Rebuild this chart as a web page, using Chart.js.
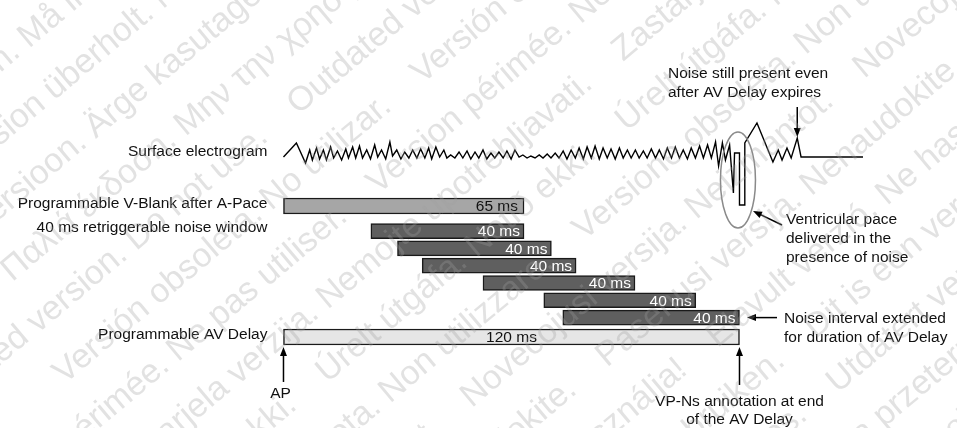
<!DOCTYPE html>
<html>
<head>
<meta charset="utf-8">
<title>Noise during the AV Delay</title>
<script src="https://cdn.jsdelivr.net/npm/chart.js@4.4.1/dist/chart.umd.min.js"></script>
<style>
  html, body { margin: 0; padding: 0; background: #fff; }
  #wrap { width: 957px; height: 428px; position: relative; }
</style>
</head>
<body>
<div id="wrap"><canvas id="timingChart"></canvas></div>
<script>
// times are ms after the atrial pace (AP)
const rowLabels = ['Surface electrogram', 'Programmable V-Blank after A-Pace',
                   '40 ms retriggerable noise window', 'Programmable AV Delay'];
const vBlank = [0, 63.3];
const noiseStarts = [23, 30, 36.5, 52.5, 68.5, 73.5];
const noiseEnds = [63.3, 70.5, 77, 92.5, 108.5, 120];
const avDelay = [0, 120];
const vBlankText = '65 ms';
const noiseText = '40 ms';
const avText = '120 ms';

// surface electrogram trace (time ms, amplitude)
const egmTime = [0, 3.4, 5.8, 6.9, 7.6, 8.7, 9.5, 10.5, 11.3, 12.4, 13.2, 14.2, 15.3, 16.4, 17.1,
  18.2, 19.0, 20.0, 20.8, 21.9, 22.9, 24.0, 24.8, 25.8, 26.9, 28.0, 28.7, 29.8, 30.9, 31.9,
  33.0, 34.0, 35.1, 36.1, 37.2, 38.2, 39.0, 40.1, 41.1, 42.2, 43.0, 44.0, 45.1, 46.2, 47.2,
  48.3, 49.3, 50.4, 51.4, 52.5, 53.5, 54.6, 55.6, 56.7, 57.8, 58.8, 59.9, 60.9, 62.0, 63.0,
  64.1, 65.1, 66.2, 67.3, 68.3, 69.4, 70.4, 71.5, 72.5, 73.6, 74.6, 75.7, 76.8, 77.8, 78.9,
  79.9, 81.0, 82.0, 83.1, 84.1, 85.2, 86.2, 87.3, 88.4, 89.4, 90.5, 91.5, 92.6, 93.6, 94.7,
  95.7, 96.8, 97.9, 98.9, 100.0, 101.0, 102.1, 103.1, 104.2, 105.2, 106.3, 107.3, 108.4, 109.5, 110.5,
  111.6, 112.6, 113.7, 114.5, 115.5, 116.3, 117.4, 118.4, 118.7, 120, 120, 121.4, 121.4, 124.6, 128.8,
  130.2, 131.2, 132.5, 133.6, 135.2, 136.2, 152.5];
const egmAmp = [0, 14, -6, 7, -3, 9, -2, 7, -3, 10, -1, 6, -3, 8, -1,
  10, -1, 11, -1, 7, -2, 12, 0, 7, -2, 15, 1, 7, -2, 5,
  -1, 7, -1, 8, -1, 9, -2, 10, 0, 7, -1, 2, -1, 5, -1,
  6, -2, 5, -1, 7, -2, 4, -1, 5, -1, 6, -2, 7, 0, 2,
  -1, 1, -1, 2, -1, 3, -1, 4, -1, 6, -2, 7, -1, 9, -2,
  10, -1, 11, -2, 9, -1, 8, -2, 9, -1, 7, -1, 7, -1, 6,
  -1, 8, -1, 7, -2, 9, -1, 10, -1, 7, -2, 9, -1, 11, -1,
  12, -1, 15, -9, 14, -3, 12, -36, 4, 4, -48, -48, 14, 34, -5,
  7, -3, 9, -1, 19, 0, 0];

// watermark lines printed over the page
const watermark = [
  'Zastaralá verze. Nepoužívat.', 'Forældet version. Må ikke anvendes.',
  'Version überholt. Nicht verwenden.', 'Aegunud versioon. Ärge kasutage.',
  'Παλιά έκδοση. Μην την χρησιμοποιείτε.', 'Outdated version. Do not use.',
  'Versión obsoleta. No utilizar.', 'Version périmée. Ne pas utiliser.',
  'Zastarjela verzija. Nemojte upotrebljavati.', 'Úrelt útgáfa. Notið ekki.',
  'Versione obsoleta. Non utilizzare.', 'Novecojusi versija. Neizmantot.',
  'Pasenusi versija. Nenaudokite.', 'Elavult verzió. Ne használja!',
  'Dit is een verouderde versie. Niet gebruiken.', 'Utdatert versjon. Skal ikke brukes.',
  'Wersja przeterminowana. Nie używać.', 'Versão obsoleta. Não utilize.',
  'Versiune expirată. A nu se utiliza.', 'Zastaraná verzia. Nepoužívať.'
];

// layout: lane of each bar row on the y scale (one lane = one noise bar)
const lanes = { vBlank: 0, noise: [1.45, 2.45, 3.45, 4.45, 5.45, 6.45], av: 7.57 };
const FONT = '"Liberation Sans", Arial, sans-serif';

function arrow(ctx, x1, y1, x2, y2) {
  const a = Math.atan2(y2 - y1, x2 - x1);
  const len = 9, half = 3.5;
  ctx.beginPath();
  ctx.moveTo(x1, y1);
  ctx.lineTo(x2 - Math.cos(a) * len * 0.8, y2 - Math.sin(a) * len * 0.8);
  ctx.stroke();
  ctx.beginPath();
  ctx.moveTo(x2, y2);
  ctx.lineTo(x2 - Math.cos(a) * len - Math.sin(a) * half, y2 - Math.sin(a) * len + Math.cos(a) * half);
  ctx.lineTo(x2 - Math.cos(a) * len + Math.sin(a) * half, y2 - Math.sin(a) * len - Math.cos(a) * half);
  ctx.closePath();
  ctx.fill();
}

const notes = {
  id: 'notes',
  afterDatasetsDraw(chart) {
    const { ctx, scales: { x, y, yEgm } } = chart;
    ctx.save();
    ctx.textBaseline = 'middle';
    ctx.font = '15.5px ' + FONT;

    // bar labels
    const meta = i => chart.getDatasetMeta(i).data;
    ctx.textAlign = 'right';
    ctx.fillStyle = '#111';
    meta(0).forEach(b => ctx.fillText(vBlankText, b.x - 6, b.y + 1));
    ctx.fillStyle = '#fff';
    meta(1).forEach(b => ctx.fillText(noiseText, b.x - 4, b.y + 1));
    ctx.textAlign = 'center';
    ctx.fillStyle = '#111';
    meta(2).forEach(b => ctx.fillText(avText, (b.x + b.base) / 2, b.y + 1));

    // row labels on the left
    ctx.textAlign = 'right';
    const lx = x.getPixelForValue(0) - 16;
    ctx.fillText(rowLabels[0], lx, yEgm.getPixelForValue(0) - 5);
    ctx.fillText(rowLabels[1], lx, y.getPixelForValue(lanes.vBlank) - 2);
    ctx.fillText(rowLabels[2], lx, y.getPixelForValue(lanes.noise[0]) - 3);
    ctx.fillText(rowLabels[3], lx, y.getPixelForValue(lanes.av) - 2);

    // annotations
    ctx.strokeStyle = '#000';
    ctx.fillStyle = '#000';
    ctx.lineWidth = 1.5;
    const x0 = x.getPixelForValue(0), xEnd = x.getPixelForValue(avDelay[1]);
    const avBottom = y.getPixelForValue(lanes.av) + 8;
    arrow(ctx, x0, avBottom + 37, x0, avBottom + 2);
    arrow(ctx, xEnd, avBottom + 40, xEnd, avBottom + 2);
    ctx.fillStyle = '#111';
    ctx.textAlign = 'center';
    ctx.fillText('AP', x0 - 3, 394);
    ctx.fillText('VP-Ns annotation at end', xEnd, 402);
    ctx.fillText('of the AV Delay', xEnd, 420);

    const lastNoise = y.getPixelForValue(lanes.noise[5]);
    ctx.fillStyle = '#000';
    arrow(ctx, 777, lastNoise, 747, lastNoise);
    arrow(ctx, 782, 225, 753, 211);
    const xNoise = x.getPixelForValue(135.2);
    arrow(ctx, xNoise, 107, xNoise, 137);

    ctx.fillStyle = '#111';
    ctx.textAlign = 'left';
    ctx.fillText('Noise still present even', 668, 74);
    ctx.fillText('after AV Delay expires', 668, 93);
    ctx.fillText('Ventricular pace', 786, 220);
    ctx.fillText('delivered in the', 786, 239);
    ctx.fillText('presence of noise', 786, 258);
    ctx.fillText('Noise interval extended', 784, lastNoise + 1);
    ctx.fillText('for duration of AV Delay', 784, lastNoise + 20);

    // ellipse round the paced beat
    ctx.strokeStyle = '#8a8a8a';
    ctx.lineWidth = 1.5;
    ctx.beginPath();
    ctx.ellipse(x.getPixelForValue(119.6), 180, 17.5, 48, 0, 0, Math.PI * 2);
    ctx.stroke();
    ctx.restore();
  },
  afterDraw(chart) {
    const { ctx } = chart;
    ctx.save();
    ctx.font = '34px ' + FONT;
    ctx.fillStyle = 'rgba(160,160,160,0.3)';
    ctx.textBaseline = 'alphabetic';
    ctx.rotate(-40 * Math.PI / 180);
    for (let k = 0; k < 18; k++) {
      const text = watermark[k % watermark.length] + '    ';
      const w = ctx.measureText(text).width;
      let xs = -420 + (k * 137) % 300;
      while (xs < 800) {
        ctx.fillText(text, xs, k * 56);
        xs += w;
      }
    }
    ctx.restore();
  }
};

const barStyle = { indexAxis: 'y', yAxisID: 'y', xAxisID: 'x', grouped: false,
                   borderColor: '#1a1a1a', borderWidth: 1.5, borderSkipped: false };

new Chart(document.getElementById('timingChart'), {
  data: {
    datasets: [
      Object.assign({ type: 'bar', label: rowLabels[1], backgroundColor: '#a6a6a6', barThickness: 16,
        data: [{ x: vBlank, y: lanes.vBlank }] }, barStyle),
      Object.assign({ type: 'bar', label: rowLabels[2], backgroundColor: '#5f5f5f', barThickness: 15,
        data: noiseStarts.map((s, i) => ({ x: [s, noiseEnds[i]], y: lanes.noise[i] })) }, barStyle),
      Object.assign({ type: 'bar', label: rowLabels[3], backgroundColor: '#e6e6e6', barThickness: 16,
        data: [{ x: avDelay, y: lanes.av }] }, barStyle),
      { type: 'line', label: rowLabels[0], xAxisID: 'x', yAxisID: 'yEgm',
        data: egmTime.map((t, i) => ({ x: t, y: egmAmp[i] })),
        borderColor: '#000', borderWidth: 1.4, pointRadius: 0, tension: 0, fill: false }
    ]
  },
  options: {
    responsive: true,
    maintainAspectRatio: false,
    animation: false,
    layout: { padding: 0 },
    plugins: { legend: { display: false }, tooltip: { enabled: false }, title: { display: false } },
    scales: {
      x: { type: 'linear', min: -74.6, max: 177.24, offset: false, display: false },
      y: { type: 'linear', min: -11.908, max: 12.832, reverse: true, offset: false, display: false },
      yEgm: { type: 'linear', min: -271, max: 157, offset: false, display: false }
    }
  },
  plugins: [notes]
});
</script>
</body>
</html>
